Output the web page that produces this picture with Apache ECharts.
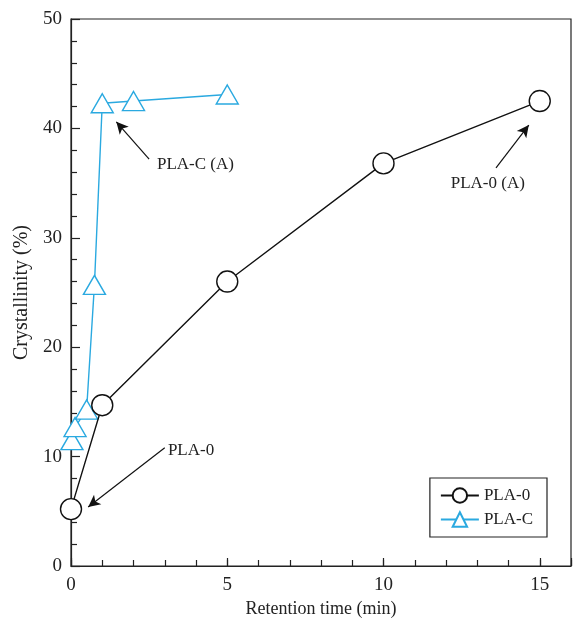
<!DOCTYPE html>
<html>
<head>
<meta charset="utf-8">
<script src="https://cdn.jsdelivr.net/npm/echarts@6/dist/echarts.min.js"></script>
<style>
  html, body { margin: 0; padding: 0; background: #fff; }
  #main { width: 574px; height: 623px; }
</style>
</head>
<body>
<div id="main"></div>
<script>
// PLA-0 : retention time (min) vs crystallinity (%)
const pla0Time = [0, 1, 5, 10, 15]
const pla0Cryst = [5.2, 14.7, 26.0, 36.8, 42.5]

// PLA-C
const plaCTime = [0.03, 0.13, 0.5, 0.75, 1, 2, 5]
const plaCCryst = [11.5, 12.7, 14.3, 25.7, 42.3, 42.5, 43.1]

// annotations: [text, textX, textY, arrowFromX, arrowFromY, arrowToX, arrowToY]
const notes = [
  ['PLA-0', 3.1, 10.6, 3.0, 10.8, 0.55, 5.4],
  ['PLA-C (A)', 2.75, 36.7, 2.5, 37.2, 1.45, 40.6],
  ['PLA-0 (A)', 12.15, 35.0, 13.6, 36.4, 14.65, 40.3]
]

const FONT = '"Liberation Serif", "DejaVu Serif", serif'
const BLUE = '#2aa9e0'

const mChart = echarts.init(document.getElementById('main'))

const pair = (xs, ys) => xs.map((x, i) => [x, ys[i]])

const arrowLines = notes.map(n => [
  {coord: [n[3], n[4]]},
  {coord: [n[5], n[6]]}
])
const noteLabels = notes.map(n => ({
  coord: [n[1], n[2]],
  label: {formatter: n[0]}
}))

const options = {
  animation: false,
  textStyle: {fontFamily: FONT},
  grid: {
    left: 71, top: 19, right: 2, bottom: 56,
    show: true, borderColor: '#222', borderWidth: 1.2, backgroundColor: 'transparent'
  },
  // legend box
  legend: {
    right: 27, bottom: 86,
    orient: 'vertical',
    data: ['PLA-0', 'PLA-C'],
    borderColor: '#222', borderWidth: 1.2,
    padding: [9, 14, 9, 10],
    itemGap: 7,
    itemWidth: 38, itemHeight: 18,
    textStyle: {fontFamily: FONT, fontSize: 17, color: '#222'}
  },
  xAxis: [
    {
      type: 'value', min: 0, max: 16, interval: 5,
      name: 'Retention time (min)', nameLocation: 'middle', nameGap: 34,
      nameTextStyle: {fontFamily: FONT, fontSize: 18, color: '#222'},
      axisLine: {lineStyle: {color: '#222', width: 1.2}},
      axisTick: {inside: true, length: 8, lineStyle: {color: '#222', width: 1.2}},
      axisLabel: {
        fontFamily: FONT, fontSize: 19, color: '#222', margin: 10,
        formatter: v => (v % 5 === 0 ? v : '')
      },
      splitLine: {show: false}
    },
    // minor ticks only
    {
      type: 'value', min: 0, max: 16, interval: 1, position: 'bottom',
      axisLine: {show: false},
      axisTick: {inside: true, length: 6, lineStyle: {color: '#222', width: 1.2}},
      axisLabel: {show: false},
      splitLine: {show: false}
    }
  ],
  yAxis: {
    type: 'value', min: 0, max: 50, interval: 10,
    name: 'Crystallinity (%)', nameLocation: 'middle', nameGap: 34,
    nameTextStyle: {fontFamily: FONT, fontSize: 20, color: '#222'},
    axisLine: {lineStyle: {color: '#222', width: 1.2}},
    axisTick: {inside: true, length: 9, lineStyle: {color: '#222', width: 1.2}},
    minorTick: {show: true, splitNumber: 5, length: 6, lineStyle: {color: '#222', width: 1.2}},
    axisLabel: {fontFamily: FONT, fontSize: 19, color: '#222', margin: 9},
    splitLine: {show: false},
    minorSplitLine: {show: false}
  },
  series: [
    {
      name: 'PLA-0',
      type: 'line',
      data: pair(pla0Time, pla0Cryst),
      symbol: 'circle',
      symbolSize: 21,
      z: 3,
      lineStyle: {color: '#111', width: 1.4},
      itemStyle: {color: '#fff', borderColor: '#111', borderWidth: 1.4},
      markLine: {
        silent: true,
        symbol: ['none', 'arrow'],
        symbolSize: [9, 12],
        label: {show: false},
        lineStyle: {color: '#111', width: 1.2, type: 'solid'},
        data: arrowLines
      },
      markPoint: {
        silent: true,
        symbol: 'circle', symbolSize: 0,
        label: {
          show: true, position: 'right', distance: 0,
          fontFamily: FONT, fontSize: 17, color: '#222'
        },
        data: noteLabels
      }
    },
    {
      name: 'PLA-C',
      type: 'line',
      data: pair(plaCTime, plaCCryst),
      symbol: 'triangle',
      symbolSize: [22, 19],
      z: 2,
      lineStyle: {color: BLUE, width: 1.4},
      itemStyle: {color: '#fff', borderColor: BLUE, borderWidth: 1.4}
    }
  ]
}
mChart.setOption(options)
</script>
</body>
</html>
